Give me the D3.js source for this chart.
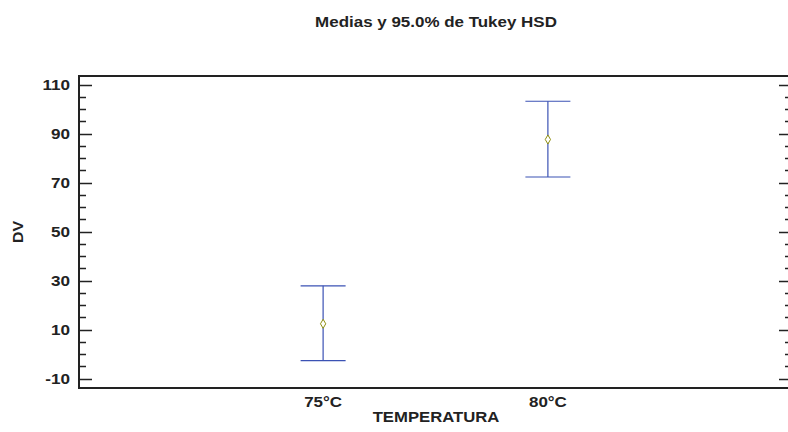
<!DOCTYPE html>
<html>
<head>
<meta charset="utf-8">
<script src="https://cdn.jsdelivr.net/npm/d3@7"></script>
<style>
  body { margin: 0; background: #fff; overflow: hidden; }
  svg { display: block; }
  text { font-family: "Liberation Sans", Arial, sans-serif; font-weight: bold; fill: #222; }
</style>
</head>
<body>
<div id="chart"></div>
<script>
// data
var categories = ["75°C", "80°C"];
var means = [12.4, 87.6];
var lower = [-2.6, 72.3];
var upper = [27.9, 103.2];
var majorTicks = [-10, 10, 30, 50, 70, 90, 110];
var minorTicks = [-5, 0, 5, 15, 20, 25, 35, 40, 45, 55, 60, 65, 75, 80, 85, 95, 100, 105];

var width = 788, height = 432;
var margin = { top: 76, right: -4, bottom: 44, left: 79 };

var svg = d3.select("#chart").append("svg")
  .attr("width", width)
  .attr("height", height);

var x = d3.scaleLinear()
  .domain([-0.086, 3.086])
  .range([margin.left, width - margin.right]);
var y = d3.scaleLinear()
  .domain([-13.8, 113.5])
  .range([height - margin.bottom, margin.top]);

// text in the original is a bit wider than Arial
function widen(sel, f) {
  sel.each(function() {
    var w = this.getComputedTextLength();
    d3.select(this).attr("textLength", w * f).attr("lengthAdjust", "spacingAndGlyphs");
  });
}

var x0 = x.range()[0], x1 = x.range()[1];
var y0 = y.range()[1], y1 = y.range()[0];

// ticks left and right, both pointing inward
var g = svg.append("g").attr("stroke", "#222").attr("stroke-width", 1.5);
g.selectAll(".maj").data(majorTicks).enter().append("path")
  .attr("d", function(d) {
    var yy = Math.round(y(d)) + 0.5;
    return "M" + x0 + "," + yy + "H" + (x0 + 13) + "M" + x1 + "," + yy + "H" + (x1 - 13);
  });
g.selectAll(".min").data(minorTicks).enter().append("path")
  .attr("d", function(d) {
    var yy = Math.round(y(d)) + 0.5;
    return "M" + x0 + "," + yy + "H" + (x0 + 7) + "M" + x1 + "," + yy + "H" + (x1 - 7);
  });

// frame (right side falls outside the picture)
svg.append("path")
  .attr("d", "M" + x1 + "," + y0 + "H" + x0 + "V" + y1 + "H" + x1)
  .attr("fill", "none").attr("stroke", "#222").attr("stroke-width", 2);

// y tick labels
svg.selectAll(".ylab").data(majorTicks).enter().append("text")
  .attr("x", 70).attr("y", function(d) { return y(d) + 5.5; })
  .attr("text-anchor", "end")
  .style("font-size", "15px")
  .text(function(d) { return d; })
  .call(widen, 1.14);

// x tick labels
svg.selectAll(".xlab").data(categories).enter().append("text")
  .attr("x", function(d, i) { return x(i + 1); })
  .attr("y", 407)
  .attr("text-anchor", "middle")
  .style("font-size", "15px")
  .text(function(d) { return d; })
  .call(widen, 1.13);

// error bars
var bars = svg.selectAll(".bar").data(categories).enter().append("g")
  .attr("stroke", "#3b52b4").attr("stroke-width", 1.2);
bars.append("line")
  .attr("x1", function(d, i) { return x(i + 1); })
  .attr("x2", function(d, i) { return x(i + 1); })
  .attr("y1", function(d, i) { return y(upper[i]); })
  .attr("y2", function(d, i) { return y(lower[i]); });
[upper, lower].forEach(function(arr) {
  bars.append("line")
    .attr("x1", function(d, i) { return x(i + 1) - 22.5; })
    .attr("x2", function(d, i) { return x(i + 1) + 22.5; })
    .attr("y1", function(d, i) { return y(arr[i]); })
    .attr("y2", function(d, i) { return y(arr[i]); });
});
bars.append("path")
  .attr("d", d3.symbol(d3.symbolDiamond, 24))
  .attr("transform", function(d, i) { return "translate(" + x(i + 1) + "," + y(means[i]) + ")"; })
  .attr("fill", "#fff").attr("stroke", "#8f8f10").attr("stroke-width", 1);

// titles
svg.append("text")
  .attr("x", 436).attr("y", 27)
  .attr("text-anchor", "middle")
  .style("font-size", "15px")
  .text("Medias y 95.0% de Tukey HSD")
  .call(widen, 1.13);

svg.append("text")
  .attr("x", 436).attr("y", 422)
  .attr("text-anchor", "middle")
  .style("font-size", "14.5px")
  .text("TEMPERATURA")
  .call(widen, 1.15);

svg.append("text")
  .attr("transform", "translate(23," + ((y0 + y1) / 2) + ") rotate(-90)")
  .attr("text-anchor", "middle")
  .style("font-size", "14.5px")
  .text("DV")
  .call(widen, 1.1);
</script>
</body>
</html>
